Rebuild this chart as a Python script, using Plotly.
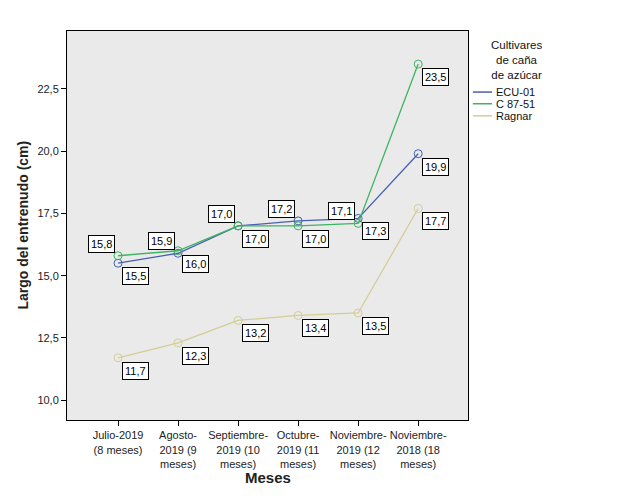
import plotly.graph_objects as go

categories = [
    "Julio-2019<br>(8 meses)",
    "Agosto-<br>2019 (9<br>meses)",
    "Septiembre-<br>2019 (10<br>meses)",
    "Octubre-<br>2019 (11<br>meses)",
    "Noviembre-<br>2019 (12<br>meses)",
    "Noviembre-<br>2018 (18<br>meses)",
]
ecu01 = [15.5, 15.9, 17.0, 17.2, 17.3, 19.9]
c8751 = [15.8, 16.0, 17.0, 17.0, 17.1, 23.5]
ragnar = [11.7, 12.3, 13.2, 13.4, 13.5, 17.7]

series_names = ["ECU-01", "C 87-51", "Ragnar"]
series_values = [ecu01, c8751, ragnar]
legend_title = "Cultivares<br>de caña<br>de azúcar"
x_title = "Meses"
y_title = "Largo del entrenudo (cm)"
colors = ["#4860B0", "#3DB460", "#D3CE97"]
# label placement per point: "a" = above-left, "b" = below-right
placements = [
    ["b", "a", "a", "a", "b", "b"],
    ["a", "b", "b", "b", "a", "b"],
    ["b", "b", "b", "b", "b", "b"],
]

FONT = "Liberation Sans, Arial"
xs = list(range(len(categories)))
fig = go.Figure()
for name, vals, col in zip(series_names, series_values, colors):
    fig.add_trace(go.Scatter(
        x=xs, y=vals, name=name, mode="lines+markers",
        line=dict(color=col, width=1.3),
        marker=dict(symbol="circle-open", size=8, color=col, line=dict(width=1)),
        showlegend=False,
    ))

for vals, pl in zip(series_values, placements):
    for i, (v, p) in enumerate(zip(vals, pl)):
        fig.add_annotation(
            x=i, y=v, xref="x", yref="y",
            text=f"{v:.1f}".replace(".", ","),
            showarrow=False,
            xshift=17 if p == "b" else -17,
            yshift=-13 if p == "b" else 12,
            xanchor="center", yanchor="middle",
            bgcolor="white", bordercolor="black", borderwidth=1, borderpad=2,
            font=dict(family=FONT, size=11, color="black"),
        )

# legend (drawn in paper coordinates, to the right of the plot area)
fig.add_annotation(
    x=1.122, y=0.985, xref="paper", yref="paper", xanchor="center", yanchor="top",
    text=legend_title, showarrow=False, align="center",
    font=dict(family=FONT, size=11.5, color="#111"),
)
leg_y = [0.843, 0.813, 0.782]
for name, col, ly in zip(series_names, colors, leg_y):
    fig.add_shape(type="line", xref="paper", yref="paper",
                  x0=1.012, x1=1.060, y0=ly, y1=ly,
                  line=dict(color=col, width=1.5))
    fig.add_annotation(
        x=1.066, y=ly, xref="paper", yref="paper", xanchor="left", yanchor="middle",
        text=name, showarrow=False,
        font=dict(family=FONT, size=11, color="#111"),
    )

# axis titles
fig.add_annotation(
    x=0.5, y=-0.149, xref="paper", yref="paper", xanchor="center", yanchor="middle",
    text=f"<b>{x_title}</b>", showarrow=False,
    font=dict(family=FONT, size=15, color="#222"),
)
fig.add_annotation(
    x=-0.112, y=0.5, xref="paper", yref="paper", xanchor="center", yanchor="middle",
    text=f"<b>{y_title}</b>", showarrow=False, textangle=-90,
    font=dict(family=FONT, size=14, color="#222"),
)

# page body has an 8px margin, so the figure is shrunk/offset to compensate
fig.update_layout(
    width=618, height=493,
    margin=dict(l=59, r=158, t=23, b=81),
    paper_bgcolor="white",
    plot_bgcolor="#EAEAEA",
    separators=",.",
    font=dict(family=FONT, size=11, color="#222"),
    showlegend=False,
)
fig.update_xaxes(
    range=[-0.85, 5.83], automargin=False,
    tickmode="array", tickvals=xs, ticktext=categories,
    ticks="outside", ticklen=5, tickcolor="black",
    showgrid=False, zeroline=False,
    showline=True, linecolor="black", linewidth=1, mirror=True,
    tickfont=dict(size=11, color="#222"),
)
fig.update_yaxes(
    range=[9.2, 24.83], automargin=False,
    tickvals=[10, 12.5, 15, 17.5, 20, 22.5], tickformat=".1f",
    ticks="outside", ticklen=5, tickcolor="black",
    showgrid=False, zeroline=False,
    showline=True, linecolor="black", linewidth=1, mirror=True,
    tickfont=dict(size=11, color="#222"),
)

fig.write_html("out.html")
